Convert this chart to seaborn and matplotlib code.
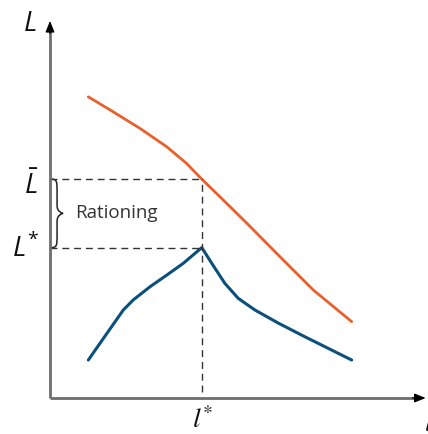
import numpy as np
import pandas as pd
import matplotlib
matplotlib.use("Agg")
import matplotlib.pyplot as plt
from matplotlib.path import Path
from matplotlib.patches import PathPatch
import seaborn as sns

# Loan demand (upper, orange) and loans supplied (lower, blue) against the interest rate
rate_upper = [1.03, 1.70, 2.42, 3.14, 3.67, 4.08, 4.57, 5.29, 6.18, 7.08, 8.11]
loans_upper = [8.01, 7.61, 7.17, 6.68, 6.24, 5.82, 5.35, 4.65, 3.76, 2.87, 2.03]

rate_lower = [1.03, 1.34, 1.75, 1.97, 2.24, 2.69, 3.14, 3.58, 4.08,
              4.35, 4.70, 5.06, 5.51, 6.14, 6.85, 7.48, 8.11]
loans_lower = [1.01, 1.45, 2.03, 2.34, 2.61, 2.96, 3.27, 3.58, 4.00,
               3.58, 3.05, 2.65, 2.34, 1.99, 1.63, 1.32, 1.01]

l_star = 4.08      # rationing interest rate
L_bar = 5.82       # loan demand at l*
L_star = 4.00      # loans granted at l*

ORANGE = "#E8602C"
BLUE = "#0B4F7C"
AXIS = "#6E6E6E"
DASH = "#333333"

sns.set_theme(style="white")
plt.rcParams["font.family"] = ["Open Sans", "DejaVu Sans"]
plt.rcParams["mathtext.fontset"] = "custom"
plt.rcParams["mathtext.rm"] = "Open Sans"
plt.rcParams["mathtext.it"] = "Open Sans:italic"
plt.rcParams["mathtext.bf"] = "Open Sans:bold"

fig = plt.figure(figsize=(4.28, 4.34), dpi=100)
ax = fig.add_axes([50 / 428, 36 / 434, 372 / 428, 376 / 434])
ax.set_xlim(0, 10)
ax.set_ylim(0, 10)
ax.set_axis_off()

upper = pd.DataFrame({"rate": rate_upper, "loans": loans_upper})
lower = pd.DataFrame({"rate": rate_lower, "loans": loans_lower})
sns.lineplot(data=upper, x="rate", y="loans", sort=False, color=ORANGE, lw=2, ax=ax)
sns.lineplot(data=lower, x="rate", y="loans", sort=False, color=BLUE, lw=2.2, ax=ax)

# Guide lines
dash = dict(color=DASH, lw=1, linestyle=(0, (5, 3.5)))
ax.plot([0, l_star], [L_bar, L_bar], **dash)
ax.plot([0, l_star], [L_star, L_star], **dash)
ax.plot([l_star, l_star], [0.15, L_bar], **dash)

# Axes: gray shafts with small black arrow heads
tr = ax.transAxes
ax.plot([0, 0], [0, 0.985], color=AXIS, lw=2, transform=tr, clip_on=False,
        solid_capstyle="butt")
ax.plot([0, 0.995], [0, 0], color=AXIS, lw=2, transform=tr, clip_on=False,
        solid_capstyle="butt")
head = dict(arrowstyle="-|>,head_width=0.22,head_length=0.55", color="black",
            lw=1, shrinkA=0, shrinkB=0)
ax.annotate("", xy=(0, 1.003), xytext=(0, 0.97), xycoords="axes fraction",
            arrowprops=head, annotation_clip=False)
ax.annotate("", xy=(1.01, 0), xytext=(0.975, 0), xycoords="axes fraction",
            arrowprops=head, annotation_clip=False)

# Curly brace between L* and L-bar
x0, xm, xt = 0.02, 0.19, 0.35
ym = (L_bar + L_star) / 2
verts = [
    (x0, L_bar), (xm, L_bar), (xm, L_bar - 0.05), (xm, L_bar - 0.35),
    (xm, ym + 0.25), (xm, ym + 0.15), (xm, ym + 0.05), (xt, ym),
    (xm, ym - 0.05), (xm, ym - 0.15), (xm, ym - 0.25),
    (xm, L_star + 0.35), (xm, L_star + 0.05), (xm, L_star), (x0, L_star),
]
codes = [Path.MOVETO, Path.CURVE4, Path.CURVE4, Path.CURVE4,
         Path.LINETO, Path.CURVE4, Path.CURVE4, Path.CURVE4,
         Path.CURVE4, Path.CURVE4, Path.CURVE4,
         Path.LINETO, Path.CURVE4, Path.CURVE4, Path.CURVE4]
ax.add_patch(PathPatch(Path(verts, codes), fill=False, ec="#222222", lw=1.1,
                       clip_on=False))

ax.text(0.67, ym, "Rationing", fontsize=13.5, color="#333333", va="center", ha="left")

# Axis and level labels
lab = dict(fontsize=20, color="#111111")
ax.text(-0.35, 9.95, r"$L$", ha="right", va="center", **lab)
ax.text(-0.3, L_bar - 0.2, r"$\bar{L}$", ha="right", va="center", **lab)
ax.text(-0.3, L_star - 0.05, r"$L^{*}$", ha="right", va="center", **lab)
ax.text(l_star + 0.02, -0.6, r"$l^{*}$", ha="center", va="center",
        math_fontfamily="stix", **lab)
ax.text(10.05, -0.7, r"$l$", ha="left", va="center", math_fontfamily="stix",
        clip_on=False, **lab)

fig.savefig("out.png", dpi=100)
